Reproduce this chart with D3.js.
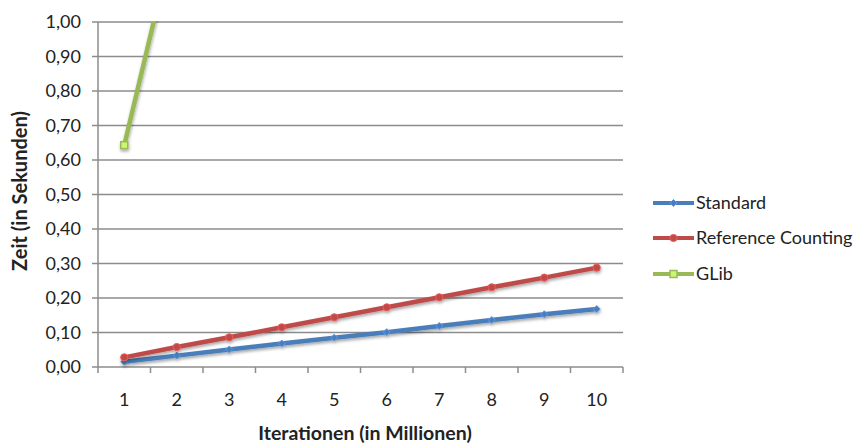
<!DOCTYPE html>
<html>
<head>
<meta charset="utf-8">
<script src="https://cdnjs.cloudflare.com/ajax/libs/d3/7.8.5/d3.min.js"></script>
<style>
  html, body { margin: 0; padding: 0; background: #fff; }
  svg { display: block; font-family: Lato, "Open Sans", sans-serif; }
</style>
</head>
<body>
<svg id="chart" width="853" height="445"></svg>
<script>
// Laufzeiten in Sekunden je Million Iterationen
const categories = ["1", "2", "3", "4", "5", "6", "7", "8", "9", "10"];
const standard = [0.015, 0.033, 0.051, 0.068, 0.085, 0.101, 0.119, 0.136, 0.153, 0.168];
const refCounting = [0.028, 0.058, 0.086, 0.115, 0.144, 0.173, 0.202, 0.231, 0.259, 0.288];
const glib = [0.643, 1.28];
const yTicks = [0, 0.1, 0.2, 0.3, 0.4, 0.5, 0.6, 0.7, 0.8, 0.9, 1.0];
const seriesNames = ["Standard", "Reference Counting", "GLib"];

const series = [
  { name: seriesNames[0], values: standard, color: "#4a7ebb", marker: "diamond" },
  { name: seriesNames[1], values: refCounting, color: "#be4b48", marker: "circle" },
  { name: seriesNames[2], values: glib, color: "#98b954", marker: "square" }
];

const svg = d3.select("#chart");
const plot = { left: 98, right: 623, top: 22, bottom: 367 };

const x = d3.scaleBand().domain(categories).range([plot.left, plot.right]);
const y = d3.scaleLinear().domain([0, 1]).range([plot.bottom, plot.top]);
const fmt = v => d3.format(".2f")(v).replace(".", ",");

const defs = svg.append("defs");
defs.append("clipPath").attr("id", "plotClip")
  .append("rect")
  .attr("x", plot.left).attr("y", plot.top - 1)
  .attr("width", plot.right - plot.left + 10).attr("height", plot.bottom - plot.top + 10);
const shadow = defs.append("filter").attr("id", "shadow")
  .attr("x", "-10%").attr("y", "-10%").attr("width", "120%").attr("height", "130%");
shadow.append("feDropShadow").attr("dx", 0.5).attr("dy", 2).attr("stdDeviation", 1.5)
  .attr("flood-color", "#000").attr("flood-opacity", 0.35);

// Gitternetzlinien
svg.append("g").selectAll("line").data(yTicks).join("line")
  .attr("x1", plot.left - 6).attr("x2", plot.right)
  .attr("y1", d => y(d)).attr("y2", d => y(d))
  .attr("stroke", "#8c8c8c").attr("stroke-width", 1.5);

// Y-Achse
svg.append("line")
  .attr("x1", plot.left).attr("x2", plot.left)
  .attr("y1", plot.top).attr("y2", plot.bottom)
  .attr("stroke", "#8c8c8c").attr("stroke-width", 1.5);
svg.append("g").selectAll("text").data(yTicks).join("text")
  .attr("x", 81).attr("y", d => y(d))
  .attr("dy", "0.35em").attr("text-anchor", "end")
  .attr("font-size", 18).attr("fill", "#222")
  .text(fmt);

// X-Achse: Teilstriche an den Kategoriegrenzen
const edges = categories.map(c => x(c)).concat([plot.right]);
svg.append("g").selectAll("line").data(edges).join("line")
  .attr("x1", d => d).attr("x2", d => d)
  .attr("y1", plot.bottom).attr("y2", plot.bottom + 6)
  .attr("stroke", "#8c8c8c").attr("stroke-width", 1.5);
svg.append("g").selectAll("text").data(categories).join("text")
  .attr("x", d => x(d) + x.bandwidth() / 2).attr("y", 400)
  .attr("dy", "0.35em").attr("text-anchor", "middle")
  .attr("font-size", 18).attr("fill", "#222")
  .text(d => d);

// Achsentitel
svg.append("text")
  .attr("x", 365).attr("y", 440)
  .attr("text-anchor", "middle").attr("font-size", 19.5).attr("font-weight", "bold")
  .attr("fill", "#222").text("Iterationen (in Millionen)");
svg.append("text")
  .attr("transform", "translate(27,191) rotate(-90)")
  .attr("text-anchor", "middle")
  .attr("font-size", 20).attr("font-weight", "bold")
  .attr("fill", "#222").text("Zeit (in Sekunden)");

// Datenreihen
const cx = i => x(categories[i]) + x.bandwidth() / 2;
const line = d3.line().x((d, i) => cx(i)).y(d => y(d));

function drawMarker(g, type, px, py, color) {
  if (type === "diamond") {
    g.append("path")
      .attr("d", `M${px},${py - 3.5}L${px + 3.5},${py}L${px},${py + 3.5}L${px - 3.5},${py}Z`)
      .attr("fill", color).attr("stroke", d3.color(color).brighter(0.6)).attr("stroke-width", 1);
  } else if (type === "circle") {
    g.append("circle").attr("cx", px).attr("cy", py).attr("r", 3.6)
      .attr("fill", color).attr("stroke", d3.color(color).brighter(0.6)).attr("stroke-width", 1);
  } else {
    g.append("rect").attr("x", px - 3.5).attr("y", py - 3.5).attr("width", 7).attr("height", 7)
      .attr("fill", d3.color(color).brighter(0.8)).attr("stroke", color).attr("stroke-width", 1.5);
  }
}

const dataLayer = svg.append("g").attr("clip-path", "url(#plotClip)");
series.forEach(s => {
  const g = dataLayer.append("g").attr("filter", "url(#shadow)");
  g.append("path").datum(s.values)
    .attr("d", line).attr("fill", "none")
    .attr("stroke", s.color).attr("stroke-width", 4.5)
    .attr("stroke-linejoin", "round");
  s.values.forEach((v, i) => {
    if (v <= 1) drawMarker(g, s.marker, cx(i), y(v), s.color);
  });
});

// Legende
const legendY = [203, 238, 274];
const legend = svg.append("g");
series.forEach((s, i) => {
  const g = legend.append("g");
  g.append("line").attr("x1", 653).attr("x2", 694)
    .attr("y1", legendY[i]).attr("y2", legendY[i])
    .attr("stroke", s.color).attr("stroke-width", 4);
  drawMarker(g, s.marker, 673.5, legendY[i], s.color);
  legend.append("text").attr("x", 696).attr("y", legendY[i]).attr("dy", "0.35em")
    .attr("font-size", 18).attr("fill", "#222").text(s.name);
});
</script>
</body>
</html>
